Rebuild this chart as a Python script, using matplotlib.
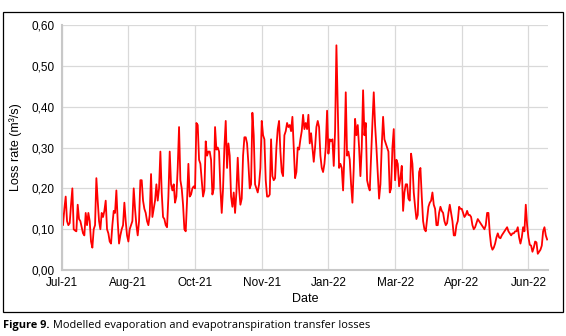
import datetime as dt
import matplotlib
matplotlib.use('Agg')
from matplotlib import pyplot as plt
import matplotlib.dates as mdates
from matplotlib.patches import Rectangle
from matplotlib.ticker import FuncFormatter


# Daily loss rate (m3/s), starting 1 Jul 2021
jul_aug = [0.155, 0.11, 0.15, 0.18, 0.12, 0.11, 0.115, 0.16, 0.20, 0.10, 0.097, 0.095, 0.16,
           0.125, 0.12, 0.105, 0.09, 0.085, 0.14, 0.11, 0.14, 0.12, 0.07, 0.055, 0.10, 0.11,
           0.225, 0.17, 0.12, 0.10, 0.14, 0.13, 0.145, 0.17, 0.10, 0.09, 0.07, 0.065, 0.11,
           0.145, 0.14, 0.195, 0.12, 0.065, 0.085, 0.10, 0.11, 0.165, 0.12, 0.085, 0.07]
aug_oct = [0.10, 0.11, 0.12, 0.20, 0.15, 0.11, 0.085, 0.12, 0.22, 0.22, 0.17, 0.15, 0.14,
           0.12, 0.11, 0.135, 0.235, 0.13, 0.15, 0.17, 0.21, 0.17, 0.20, 0.29, 0.19, 0.13,
           0.125, 0.11, 0.105, 0.18, 0.29, 0.21, 0.195, 0.21, 0.165, 0.18, 0.25, 0.35, 0.22,
           0.20, 0.16, 0.10, 0.095, 0.17, 0.26, 0.18, 0.185, 0.20, 0.205, 0.20]
oct_nov = [0.36, 0.355, 0.27, 0.26, 0.22, 0.18, 0.195, 0.315, 0.28, 0.29, 0.29, 0.27, 0.185,
           0.20, 0.35, 0.295, 0.30, 0.29, 0.20, 0.14, 0.20, 0.30, 0.365, 0.25, 0.31, 0.28,
           0.18, 0.155, 0.19, 0.14, 0.19, 0.275, 0.20, 0.16, 0.175, 0.28, 0.325, 0.325, 0.31,
           0.26, 0.20, 0.21, 0.385, 0.33, 0.21, 0.20, 0.19, 0.21, 0.25, 0.365]
nov_jan = [0.33, 0.32, 0.22, 0.18, 0.18, 0.185, 0.32, 0.23, 0.22, 0.225, 0.30, 0.345, 0.365,
           0.29, 0.24, 0.23, 0.33, 0.34, 0.36, 0.35, 0.355, 0.34, 0.375, 0.30, 0.225, 0.24,
           0.30, 0.295, 0.32, 0.34, 0.38, 0.345, 0.36, 0.345, 0.38, 0.31, 0.335, 0.30, 0.265,
           0.30, 0.35, 0.365, 0.35, 0.28, 0.25, 0.24, 0.26, 0.30, 0.39, 0.285]
jan_mar = [0.32, 0.315, 0.32, 0.255, 0.34, 0.55, 0.40, 0.25, 0.26, 0.25, 0.195, 0.28, 0.435,
           0.28, 0.29, 0.27, 0.21, 0.165, 0.25, 0.37, 0.33, 0.355, 0.30, 0.23, 0.30, 0.44,
           0.33, 0.36, 0.22, 0.205, 0.195, 0.28, 0.36, 0.435, 0.355, 0.30, 0.24, 0.175, 0.21,
           0.305, 0.375, 0.32, 0.31, 0.30, 0.29, 0.19, 0.20, 0.30, 0.345, 0.22]
mar_apr = [0.27, 0.26, 0.205, 0.225, 0.255, 0.145, 0.19, 0.21, 0.21, 0.175, 0.17, 0.285, 0.26,
           0.19, 0.155, 0.125, 0.135, 0.24, 0.25, 0.18, 0.12, 0.10, 0.095, 0.125, 0.155,
           0.165, 0.17, 0.19, 0.16, 0.15, 0.11, 0.11, 0.14, 0.155, 0.145, 0.14, 0.12, 0.11,
           0.115, 0.14, 0.16, 0.14, 0.12, 0.085, 0.085, 0.11, 0.12, 0.155, 0.15, 0.15]
apr_jun = [0.14, 0.13, 0.135, 0.145, 0.135, 0.135, 0.13, 0.11, 0.10, 0.105, 0.115, 0.125,
           0.12, 0.115, 0.11, 0.105, 0.10, 0.11, 0.14, 0.14, 0.09, 0.06, 0.05, 0.055, 0.065,
           0.08, 0.09, 0.08, 0.078, 0.085, 0.09, 0.095, 0.10, 0.105, 0.095, 0.09, 0.085, 0.09,
           0.09, 0.095, 0.095, 0.105, 0.08, 0.065, 0.08, 0.105, 0.095, 0.16, 0.11, 0.08]
jun_end = [0.062, 0.06, 0.045, 0.055, 0.07, 0.068, 0.04, 0.045, 0.05, 0.06, 0.095, 0.105,
           0.085, 0.075]

loss = jul_aug + aug_oct + oct_nov + nov_jan + jan_mar + mar_apr + apr_jun + jun_end
start = dt.date(2021, 7, 1)
dates = [start + dt.timedelta(days=i) for i in range(len(loss))]

y_ticks = [0.0, 0.1, 0.2, 0.3, 0.4, 0.5, 0.6]
tick_step_days = 50

caption_bold = 'Figure 9.'
caption_text = ' Modelled evaporation and evapotranspiration transfer losses'


plt.rcParams['font.family'] = ['Liberation Sans', 'DejaVu Sans']
fig = plt.figure(figsize=(5.66, 3.36), dpi=100)
ax = fig.add_axes([0.109, 0.196, 0.86, 0.73])

ax.plot(dates, loss, c='#ff0000', lw=1.3, solid_joinstyle='round')

# Axes styling
ax.set_ylim(0, 0.6)
ax.set_yticks(y_ticks)
ax.yaxis.set_major_formatter(FuncFormatter(lambda v, p: f'{v:.2f}'.replace('.', ',')))
ax.set_xlim(start, start + dt.timedelta(days=365))
ticks = [start + dt.timedelta(days=tick_step_days * k) for k in range(8)]
ax.set_xticks(ticks)
ax.xaxis.set_major_formatter(mdates.DateFormatter('%b-%y'))

ax.grid(True, color='#d9d9d9', lw=0.9)
ax.set_axisbelow(True)
for side in ['top', 'right']:
    ax.spines[side].set_visible(False)
for side in ['left', 'bottom']:
    ax.spines[side].set_color('#c8c8c8')
    ax.spines[side].set_linewidth(1.5)
ax.tick_params(axis='both', length=0, labelsize=8.5, colors='#000000', pad=5)
ax.set_xlabel('Date', fontsize=9, labelpad=3)
ax.set_ylabel('Loss rate (m³/s)', fontsize=9, labelpad=7)

# Frame around chart and caption
fig.patches.append(Rectangle((0.006, 0.072), 0.989, 0.893, transform=fig.transFigure,
                             fill=False, ec='black', lw=0.9))
t1 = fig.text(0.006, 0.032, caption_bold, fontsize=7.9, fontweight='bold',
              family=['Open Sans', 'DejaVu Sans'], va='center')
renderer = fig.canvas.get_renderer()
bb = t1.get_window_extent(renderer).transformed(fig.transFigure.inverted())
fig.text(bb.x1, 0.032, caption_text, fontsize=7.9,
         family=['Open Sans', 'DejaVu Sans'], va='center')

plt.savefig('out.png', dpi=100)
